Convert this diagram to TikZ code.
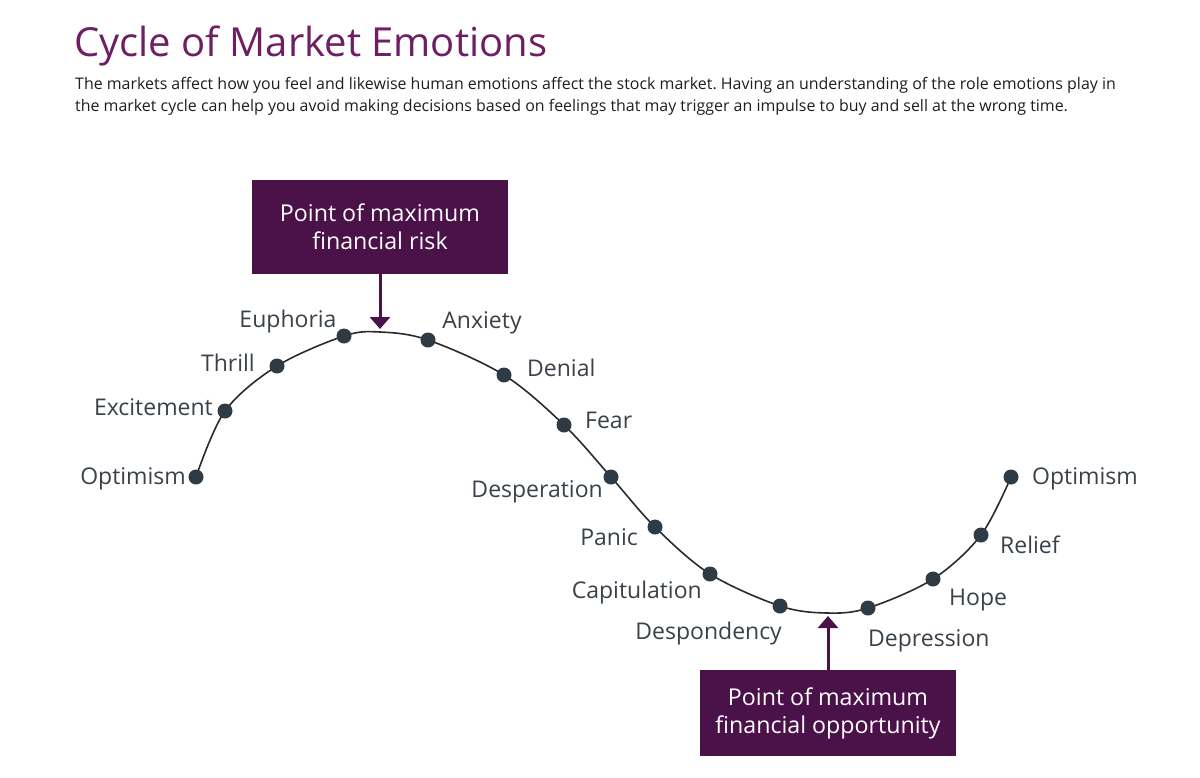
\documentclass[tikz,border=0pt]{standalone}
\usepackage{fontspec}
\setmainfont{Open Sans}
\usetikzlibrary{arrows.meta}
\frenchspacing
\definecolor{boxpurple}{HTML}{4A1248}
\definecolor{titlepurple}{HTML}{6E1E63}
\definecolor{dotgray}{HTML}{2E3A44}
\definecolor{linegray}{HTML}{2B2B2B}
\definecolor{labelgray}{HTML}{3A4149}
\definecolor{bodygray}{HTML}{1E1E1E}
\tikzset{
  dotnode/.style={circle,fill=dotgray,minimum size=15pt,inner sep=0pt},
  lbl/.style={font=\fontsize{23}{27}\selectfont,text=labelgray,inner sep=0pt},
  purplebox/.style={fill=boxpurple,text=white,minimum width=256pt,inner sep=0pt,align=center,font=\fontsize{23.2}{28}\selectfont},
  pointer/.style={draw=boxpurple,line width=3pt,-{Triangle[width=20pt,length=12pt]}},
  curveline/.style={draw=linegray,line width=1.6pt}
}
\begin{document}
\begin{tikzpicture}[x=1pt,y=-1pt]
\useasboundingbox (0,0) rectangle (1200,777);
\fill[white] (0,0) rectangle (1200,777);
\node[anchor=base west,inner sep=0pt,text=titlepurple,font=\fontsize{40}{48}\selectfont] (title) at (74,56) {Cycle of Market Emotions};
\node[anchor=base west,inner sep=0pt,text=bodygray,align=left,font=\fontsize{15.95}{22}\selectfont] (body) at (75,111) {The markets affect how you feel and likewise human emotions affect the stock market. Having an understanding of the role emotions play in\\the market cycle can help you avoid making decisions based on feelings that may trigger an impulse to buy and sell at the wrong time.};
% curve points
\coordinate (c1) at (196,477);
\coordinate (c2) at (225,411);
\coordinate (c3) at (277,366);
\coordinate (c4) at (344,336);
\coordinate (pk) at (380,332);
\coordinate (c5) at (428,340);
\coordinate (c6) at (504,375);
\coordinate (c7) at (564,425);
\coordinate (c8) at (611,477);
\coordinate (c9) at (655,527);
\coordinate (c10) at (710,574);
\coordinate (c11) at (780,606);
\coordinate (tr) at (827,613);
\coordinate (c12) at (868,608);
\coordinate (c13) at (933,579);
\coordinate (c14) at (981,535);
\coordinate (c15) at (1011,477);
\draw[curveline] plot[smooth,tension=0.55] coordinates {(c1) (c2) (c3) (c4) (pk) (c5) (c6) (c7) (c8) (c9) (c10) (c11) (tr) (c12) (c13) (c14) (c15)};
\foreach \i in {1,...,15} {\node[dotnode] (d\i) at (c\i) {};}
% labels
\node[lbl,anchor=mid east] (l1) at (186,482) {Optimism};
\node[lbl,anchor=mid east] (l2) at (213,413) {Excitement};
\node[lbl,anchor=mid east] (l3) at (255,369) {Thrill};
\node[lbl,anchor=mid] (l4) at (288,325) {Euphoria};
\node[lbl,anchor=mid] (l5) at (482,326) {Anxiety};
\node[lbl,anchor=mid west] (l6) at (527,374) {Denial};
\node[lbl,anchor=mid west] (l7) at (585,426) {Fear};
\node[lbl,anchor=mid east] (l8) at (603,495) {Desperation};
\node[lbl,anchor=mid east] (l9) at (638,543) {Panic};
\node[lbl,anchor=mid east] (l10) at (702,596) {Capitulation};
\node[lbl,anchor=mid east] (l11) at (782,637) {Despondency};
\node[lbl,anchor=mid west] (l12) at (868,644) {Depression};
\node[lbl,anchor=mid west] (l13) at (949,603) {Hope};
\node[lbl,anchor=mid west] (l14) at (1000,551) {Relief};
\node[lbl,anchor=mid west] (l15) at (1032,482) {Optimism};
% boxes
\node[purplebox,minimum height=94pt] (risk) at (380,227) {Point of maximum\\financial risk};
\node[purplebox,minimum height=86pt] (opp) at (828,713) {Point of maximum\\financial opportunity};
\coordinate (pktip) at (380,329);
\coordinate (trtip) at (828,616);
\draw[pointer] (risk.south) -- (pktip);
\draw[pointer] (opp.north) -- (trtip);
\end{tikzpicture}
\end{document}
